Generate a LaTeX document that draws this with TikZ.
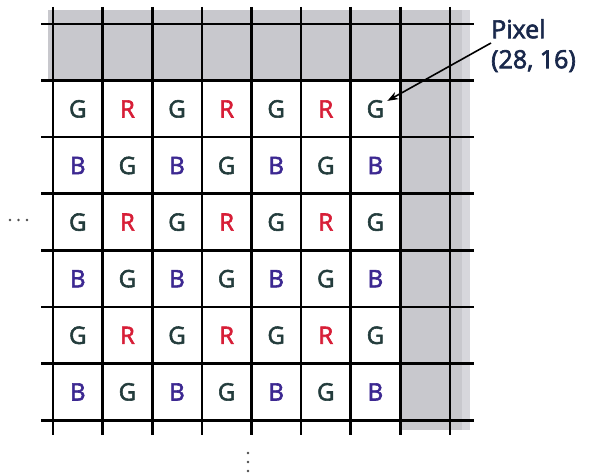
\documentclass[tikz,border=0pt]{standalone}
\usepackage{fontspec}
\setmainfont{Open Sans}
\newfontfamily\lblfont[FakeBold=2.6]{Open Sans}
\newfontfamily\cellfont[FakeBold=2.4]{Open Sans}
\usetikzlibrary{arrows.meta}
\definecolor{cG}{RGB}{35,60,60}
\definecolor{cR}{RGB}{215,30,55}
\definecolor{cB}{RGB}{60,40,145}
\definecolor{graybg}{RGB}{200,200,205}
\definecolor{graylt}{RGB}{215,215,220}
\definecolor{lbl}{RGB}{25,40,75}
\begin{document}
\begin{tikzpicture}[x=1pt,y=-1pt,
  gridline/.style={line width=2.6pt,black},
  cell/.style={font=\cellfont\fontsize{24}{24}\selectfont,inner sep=0pt},
  dotmark/.style={fill=black!70,draw=none}]
\useasboundingbox (0,0) rectangle (590,476);
% gray border region
\fill[graybg] (48,10) rectangle (470,80.6);
\fill[graybg] (400,10) rectangle (470,430);
\fill[graylt] (462,10) rectangle (470,430);
% grid
\foreach \i in {0,...,8}{
  \draw[gridline] ({53+49.6*\i},7) -- ({53+49.6*\i},435);
}
\foreach \j in {0,...,7}{
  \draw[gridline] (41,{24+56.6*\j}) -- (474,{24+56.6*\j});
}
% letters
\foreach \r in {1,3,5}{
  \foreach \c in {0,...,6}{
    \pgfmathtruncatemacro{\odd}{mod(\c,2)}
    \ifnum\odd=0
      \node[cell,text=cG] (n-\r-\c) at ({53+49.6*\c+24.8},{24+56.6*\r+28.3}) {G};
    \else
      \node[cell,text=cR] (n-\r-\c) at ({53+49.6*\c+24.8},{24+56.6*\r+28.3}) {R};
    \fi
  }
}
\foreach \r in {2,4,6}{
  \foreach \c in {0,...,6}{
    \pgfmathtruncatemacro{\odd}{mod(\c,2)}
    \ifnum\odd=0
      \node[cell,text=cB] (n-\r-\c) at ({53+49.6*\c+24.8},{24+56.6*\r+28.3}) {B};
    \else
      \node[cell,text=cG] (n-\r-\c) at ({53+49.6*\c+24.8},{24+56.6*\r+28.3}) {G};
    \fi
  }
}
% label and arrow
\node[anchor=north west,align=left,inner sep=0pt,text=lbl,
  font=\lblfont\fontsize{25}{30}\selectfont] (lab) at (491,19) {Pixel\\(28, 16)};
\coordinate (labpt) at (491,43);
\draw[line width=1.6pt,-{Stealth[length=11pt,width=8pt]}] (labpt) -- ([xshift=3pt,yshift=-1pt]n-1-6.north east);
% ellipsis dots
\foreach \x in {10,18.5,27}{ \fill[dotmark] (\x,220) circle (1.4); }
\foreach \y in {453,462,471}{ \fill[dotmark] (248,\y) circle (1.4); }
\end{tikzpicture}
\end{document}
